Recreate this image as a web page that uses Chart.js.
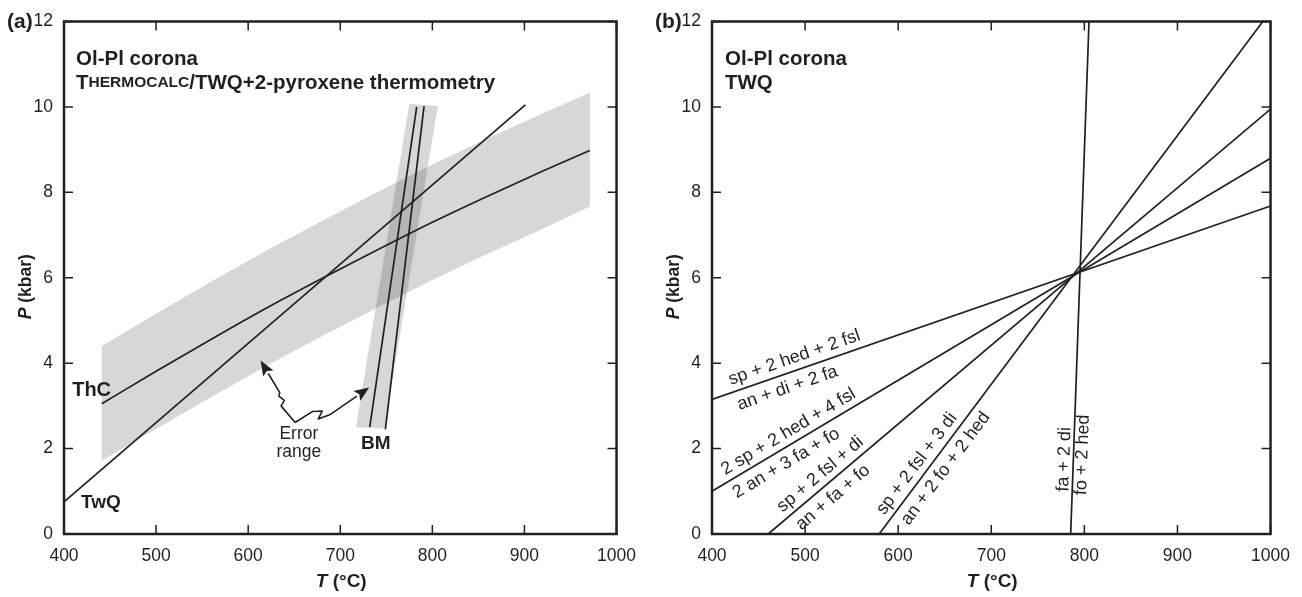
<!DOCTYPE html>
<html>
<head>
<meta charset="utf-8">
<script src="https://cdn.jsdelivr.net/npm/chart.js@4.4.1/dist/chart.umd.min.js"></script>
<style>
  html, body { margin: 0; padding: 0; background: #fff; }
  #wrap { position: relative; width: 1302px; height: 597px; }
  #chartA { position: absolute; left: 0; top: 0; }
  #chartB { position: absolute; left: 648px; top: 0; }
</style>
</head>
<body>
<div id="wrap">
  <canvas id="chartA" width="648" height="597"></canvas>
  <canvas id="chartB" width="654" height="597"></canvas>
</div>
<script>
// ticks shared by both panels
const tickT = [400, 500, 600, 700, 800, 900, 1000];
const tickP = [0, 2, 4, 6, 8, 10, 12];

// panel (a): THERMOCALC curve and its error band
const thcT   = [441, 500, 560, 620, 680, 740, 800, 860, 920, 971];
const thcP   = [3.05, 3.81, 4.56, 5.29, 5.98, 6.65, 7.3, 7.91, 8.5, 8.98];
const thcHiP = [4.4, 5.16, 5.91, 6.64, 7.33, 8.0, 8.65, 9.26, 9.85, 10.33];
const thcLoP = [1.72, 2.46, 3.21, 3.94, 4.63, 5.3, 5.95, 6.56, 7.15, 7.67];

// panel (a): TWQ line
const twqT = [400, 901];
const twqP = [0.75, 10.05];

// panel (a): two-pyroxene (BM) lines and band
const bm1T = [732, 783];
const bm1P = [2.5, 10.0];
const bm2T = [749, 791];
const bm2P = [2.45, 10.02];
const bmBandT = [717, 775, 806, 748];
const bmBandP = [2.5, 10.07, 10.02, 2.47];

// panel (b): TWQ reaction lines (start / end)
const rxnT0 = [400, 400, 460.4, 579.6, 785.3];
const rxnP0 = [3.15, 1.0, 0, 0, 0];
const rxnT1 = [1000, 1000, 1000, 991.7, 805];
const rxnP1 = [7.68, 8.8, 9.95, 12, 12];
const rxnAbove = ['sp + 2 hed + 2 fsl', '2 sp + 2 hed + 4 fsl', 'sp + 2 fsl + di', 'sp + 2 fsl + 3 di', 'fa + 2 di'];
const rxnBelow = ['an + di + 2 fa', '2 an + 3 fa + fo', 'an + fa + fo', 'an + 2 fo + 2 hed', 'fo + 2 hed'];

const INK = '#231f20';
const SHADE = 'rgba(35,31,32,0.18)';
const SANS = '"Liberation Sans", Arial, Helvetica, sans-serif';

const pts = (T, P) => T.map((t, i) => ({x: t, y: P[i]}));

function lineDs(T, P, extra) {
  return Object.assign({
    data: pts(T, P), showLine: true, borderColor: INK, borderWidth: 1.7,
    pointRadius: 0, fill: false, order: 0
  }, extra || {});
}

function shapeDs(T, P) {
  return {
    data: pts(T, P), showLine: true, borderColor: 'rgba(0,0,0,0)', borderWidth: 0,
    backgroundColor: SHADE, pointRadius: 0, fill: 'shape', order: 5
  };
}

// draw a run of text pieces with different fonts
function drawParts(ctx, x, y, parts, align) {
  let w = 0;
  parts.forEach(([t, f]) => { ctx.font = f; w += ctx.measureText(t).width; });
  let cx = align === 'center' ? x - w / 2 : x;
  ctx.textAlign = 'left';
  parts.forEach(([t, f]) => { ctx.font = f; ctx.fillText(t, cx, y); cx += ctx.measureText(t).width; });
}

function axisTitles(ctx, a) {
  ctx.save();
  ctx.translate(a.left - 38, (a.top + a.bottom) / 2 + 9);
  ctx.rotate(-Math.PI / 2);
  drawParts(ctx, 0, 0, [['P', 'italic bold 17.5px ' + SANS], [' (kbar)', 'bold 17.5px ' + SANS]], 'center');
  ctx.restore();
  drawParts(ctx, (a.left + a.right) / 2 + 1, 582, [['T', 'italic bold 19px ' + SANS], [' (°C)', 'bold 19px ' + SANS]], 'center');
}

// frame with inward ticks on all four sides
const framePlugin = {
  id: 'frame',
  afterDatasetsDraw(chart) {
    const {ctx, chartArea: a, scales: {x, y}} = chart;
    ctx.save();
    ctx.strokeStyle = INK;
    ctx.lineWidth = 1.5;
    ctx.beginPath();
    tickT.forEach(v => {
      const X = x.getPixelForValue(v);
      ctx.moveTo(X, a.bottom); ctx.lineTo(X, a.bottom - 9);
      ctx.moveTo(X, a.top); ctx.lineTo(X, a.top + 9);
    });
    tickP.forEach(v => {
      const Y = y.getPixelForValue(v);
      ctx.moveTo(a.left, Y); ctx.lineTo(a.left + 9, Y);
      ctx.moveTo(a.right, Y); ctx.lineTo(a.right - 9, Y);
    });
    ctx.stroke();
    ctx.lineWidth = 2.5;
    ctx.strokeRect(a.left, a.top, a.width, a.height);
    ctx.restore();
  }
};

function arrow(ctx, chart, path) {
  const xs = chart.scales.x, ys = chart.scales.y;
  const p = path.map(([t, q]) => [xs.getPixelForValue(t), ys.getPixelForValue(q)]);
  const tip = p[p.length - 1], prev = p[p.length - 2];
  const ang = Math.atan2(tip[1] - prev[1], tip[0] - prev[0]);
  const L = 15, W = 6;
  const base = [tip[0] - L * Math.cos(ang), tip[1] - L * Math.sin(ang)];
  ctx.beginPath();
  ctx.moveTo(p[0][0], p[0][1]);
  for (let i = 1; i < p.length - 1; i++) ctx.lineTo(p[i][0], p[i][1]);
  ctx.lineTo(base[0], base[1]);
  ctx.stroke();
  ctx.beginPath();
  ctx.moveTo(tip[0], tip[1]);
  ctx.lineTo(base[0] + W * Math.sin(ang), base[1] - W * Math.cos(ang));
  ctx.lineTo(base[0] + 3 * Math.cos(ang), base[1] + 3 * Math.sin(ang));
  ctx.lineTo(base[0] - W * Math.sin(ang), base[1] + W * Math.cos(ang));
  ctx.closePath();
  ctx.fill();
}

const notesA = {
  id: 'notesA',
  afterDraw(chart) {
    const {ctx, chartArea: a} = chart;
    const X = v => chart.scales.x.getPixelForValue(v);
    const Y = v => chart.scales.y.getPixelForValue(v);
    ctx.save();
    ctx.fillStyle = INK;
    ctx.strokeStyle = INK;
    ctx.textBaseline = 'middle';
    ctx.textAlign = 'left';
    ctx.font = 'bold 21px ' + SANS;
    ctx.fillText('(a)', a.left - 57, a.top + 1);
    ctx.font = 'bold 20.5px ' + SANS;
    ctx.fillText('Ol-Pl corona', a.left + 12, 59);
    drawParts(ctx, a.left + 12, 83, [
      ['T', 'bold 20.5px ' + SANS],
      ['HERMOCALC', 'bold 15.5px ' + SANS],
      ['/TWQ+2-pyroxene thermometry', 'bold 20.5px ' + SANS]
    ]);
    axisTitles(ctx, a);

    ctx.textAlign = 'center';
    ctx.font = 'bold 20px ' + SANS;
    ctx.fillText('ThC', X(430), Y(3.35));
    ctx.font = 'bold 19px ' + SANS;
    ctx.fillText('TwQ', X(440), Y(0.74));
    ctx.fillText('BM', X(738.6), Y(2.12));
    ctx.font = '17.5px ' + SANS;
    ctx.fillText('Error', X(655), Y(2.33));
    ctx.fillText('range', X(655), Y(1.91));

    ctx.lineWidth = 1.6;
    ctx.lineJoin = 'round';
    arrow(ctx, chart, [[651, 2.61], [635.7, 3.0], [639.3, 3.13], [633.3, 3.23], [634.3, 3.31], [613.5, 4.06]]);
    arrow(ctx, chart, [[651, 2.61], [670, 2.87], [680.4, 2.88], [676.1, 2.69], [688.5, 2.79], [731.4, 3.43]]);
    ctx.restore();
  }
};

// label placement along each reaction line: fraction along line, offset (px)
const rxnPlace = [
  {ta: 0.155, tb: 0.127, oa: 12.5, ob: 14},
  {ta: 0.148, tb: 0.12, oa: 12, ob: 14},
  {ta: 0.119, tb: 0.111, oa: 12, ob: 14},
  {ta: 0.123, tb: 0.144, oa: 12, ob: 14},
  {ta: 0.145, tb: 0.155, oa: 9, ob: 9}
];

const notesB = {
  id: 'notesB',
  afterDraw(chart) {
    const {ctx, chartArea: a} = chart;
    const X = v => chart.scales.x.getPixelForValue(v);
    const Y = v => chart.scales.y.getPixelForValue(v);
    ctx.save();
    ctx.fillStyle = INK;
    ctx.textBaseline = 'middle';
    ctx.textAlign = 'left';
    ctx.font = 'bold 21px ' + SANS;
    ctx.fillText('(b)', a.left - 57, a.top + 1);
    ctx.font = 'bold 20.5px ' + SANS;
    ctx.fillText('Ol-Pl corona', a.left + 13, 59);
    ctx.fillText('TWQ', a.left + 13, 83);
    axisTitles(ctx, a);

    ctx.font = '18px ' + SANS;
    rxnT0.forEach((t0, i) => {
      const x0 = X(t0), y0 = Y(rxnP0[i]), x1 = X(rxnT1[i]), y1 = Y(rxnP1[i]);
      const th = Math.atan2(y1 - y0, x1 - x0);
      const nx = Math.sin(th), ny = -Math.cos(th);
      const pl = rxnPlace[i];
      [[rxnAbove[i], pl.ta, pl.oa], [rxnBelow[i], pl.tb, -pl.ob]].forEach(([txt, f, off]) => {
        const cx = x0 + f * (x1 - x0) + nx * off;
        const cy = y0 + f * (y1 - y0) + ny * off;
        ctx.save();
        ctx.translate(cx, cy);
        ctx.rotate(th);
        ctx.textAlign = 'center';
        ctx.fillText(txt, 0, 0);
        ctx.restore();
      });
    });
    ctx.restore();
  }
};

function options(padRight) {
  const tickFont = {family: SANS, size: 17.5};
  return {
    responsive: false,
    animation: false,
    devicePixelRatio: 1,
    layout: {padding: {top: 18, right: padRight, bottom: 0, left: 0}},
    plugins: {legend: {display: false}, tooltip: {enabled: false}},
    scales: {
      x: {
        type: 'linear', min: 400, max: 1000,
        ticks: {stepSize: 100, color: INK, font: tickFont, padding: 12, maxRotation: 0,
                callback: v => String(v)},
        grid: {display: false, drawTicks: false},
        border: {display: false},
        afterFit: s => { s.height = 63; }
      },
      y: {
        type: 'linear', min: 0, max: 12,
        ticks: {stepSize: 2, color: INK, font: tickFont, padding: 11,
                callback: v => String(v)},
        grid: {display: false, drawTicks: false},
        border: {display: false},
        afterFit: s => { s.width = 64; }
      }
    }
  };
}

new Chart(document.getElementById('chartA'), {
  type: 'scatter',
  data: {
    datasets: [
      shapeDs(thcT.concat(thcT.slice().reverse()), thcHiP.concat(thcLoP.slice().reverse())),
      shapeDs(bmBandT, bmBandP),
      lineDs(thcT, thcP, {cubicInterpolationMode: 'monotone'}),
      lineDs(twqT, twqP),
      lineDs(bm1T, bm1P),
      lineDs(bm2T, bm2P)
    ]
  },
  options: options(24),
  plugins: [framePlugin, notesA]
});

new Chart(document.getElementById('chartB'), {
  type: 'scatter',
  data: {
    datasets: rxnT0.map((t0, i) => lineDs([t0, rxnT1[i]], [rxnP0[i], rxnP1[i]]))
  },
  options: options(31),
  plugins: [framePlugin, notesB]
});
</script>
</body>
</html>
